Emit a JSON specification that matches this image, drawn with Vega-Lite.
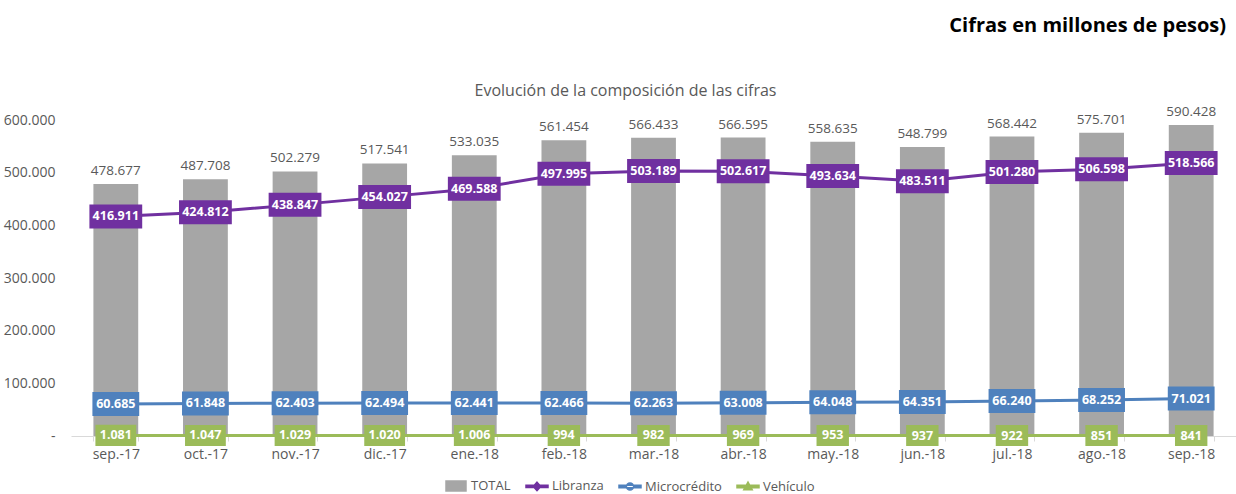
{
  "$schema": "https://vega.github.io/schema/vega-lite/v6.json",
  "autosize": {"type": "none"},
  "width": 1165,
  "height": 316,
  "padding": {"left": 71, "top": 120, "right": 0, "bottom": 58},
  "background": "white",
  "config": {
    "locale": {"number": {"decimal": ",", "thousands": ".", "grouping": [3], "currency": ["$", ""]}},
    "view": {"stroke": null},
    "font": "Open Sans"
  },
  "title": {
    "text": "Cifras en millones de pesos)",
    "anchor": "end",
    "frame": "group",
    "offset": 46,
    "dx": -10,
    "fontSize": 20,
    "fontWeight": "bold",
    "color": "#000000",
    "font": "Open Sans"
  },
  "data": {
    "values": [
      {"mes": "sep.-17", "TOTAL": 478677, "Libranza": 416911, "Microcrédito": 60685, "Vehículo": 1081},
      {"mes": "oct.-17", "TOTAL": 487708, "Libranza": 424812, "Microcrédito": 61848, "Vehículo": 1047},
      {"mes": "nov.-17", "TOTAL": 502279, "Libranza": 438847, "Microcrédito": 62403, "Vehículo": 1029},
      {"mes": "dic.-17", "TOTAL": 517541, "Libranza": 454027, "Microcrédito": 62494, "Vehículo": 1020},
      {"mes": "ene.-18", "TOTAL": 533035, "Libranza": 469588, "Microcrédito": 62441, "Vehículo": 1006},
      {"mes": "feb.-18", "TOTAL": 561454, "Libranza": 497995, "Microcrédito": 62466, "Vehículo": 994},
      {"mes": "mar.-18", "TOTAL": 566433, "Libranza": 503189, "Microcrédito": 62263, "Vehículo": 982},
      {"mes": "abr.-18", "TOTAL": 566595, "Libranza": 502617, "Microcrédito": 63008, "Vehículo": 969},
      {"mes": "may.-18", "TOTAL": 558635, "Libranza": 493634, "Microcrédito": 64048, "Vehículo": 953},
      {"mes": "jun.-18", "TOTAL": 548799, "Libranza": 483511, "Microcrédito": 64351, "Vehículo": 937},
      {"mes": "jul.-18", "TOTAL": 568442, "Libranza": 501280, "Microcrédito": 66240, "Vehículo": 922},
      {"mes": "ago.-18", "TOTAL": 575701, "Libranza": 506598, "Microcrédito": 68252, "Vehículo": 851},
      {"mes": "sep.-18", "TOTAL": 590428, "Libranza": 518566, "Microcrédito": 71021, "Vehículo": 841}
    ]
  },
  "transform": [
    {"fold": ["TOTAL", "Libranza", "Microcrédito", "Vehículo"], "as": ["serie", "valor"]}
  ],
  "encoding": {
    "x": {
      "field": "mes",
      "type": "nominal",
      "sort": null,
      "scale": {"paddingInner": 0.5, "paddingOuter": 0.25},
      "axis": {
        "title": null,
        "labelAngle": 0,
        "labelFontSize": 14,
        "labelColor": "#595959",
        "labelPadding": 6,
        "domainColor": "#D9D9D9",
        "tickColor": "#D9D9D9",
        "tickSize": 5,
        "tickBand": "extent"
      }
    },
    "y": {
      "field": "valor",
      "type": "quantitative",
      "scale": {"domain": [0, 600000]},
      "axis": {
        "values": [0, 100000, 200000, 300000, 400000, 500000, 600000],
        "format": ",.0f",
        "labelExpr": "datum.value === 0 ? '-' : datum.label",
        "labelFontSize": 14,
        "labelColor": "#595959",
        "labelPadding": 16,
        "ticks": false,
        "domain": false,
        "grid": false,
        "title": "Evolución de la composición  de las cifras",
        "titleAngle": 0,
        "titleX": 554,
        "titleY": -30,
        "titleAlign": "center",
        "titleBaseline": "middle",
        "titleFontSize": 16,
        "titleFontWeight": "normal",
        "titleColor": "#595959",
        "titleFont": "Open Sans"
      }
    }
  },
  "layer": [
    {
      "transform": [{"filter": "datum.serie === 'TOTAL'"}],
      "mark": {"type": "bar"},
      "encoding": {
        "color": {
          "field": "serie",
          "type": "nominal",
          "scale": {
            "domain": ["TOTAL", "Libranza", "Microcrédito", "Vehículo"],
            "range": ["#A6A6A6", "#7030A0", "#4F81BD", "#9BBB59"]
          },
          "legend": {
            "title": null,
            "orient": "none",
            "direction": "horizontal",
            "legendX": 374,
            "legendY": 355,
            "labelFontSize": 13,
            "labelColor": "#595959",
            "labelOffset": 4,
            "columnPadding": 12,
            "symbolSize": 400,
            "encode": {
              "symbols": {
                "update": {
                  "shape": {"signal": "datum.value === 'TOTAL' ? 'M-1,-0.5L1,-0.5L1,0.5L-1,0.5Z' : datum.value === 'Libranza' ? 'M-1.1,-0.12L1.1,-0.12L1.1,0.12L-1.1,0.12Z M0,-0.42L0.38,0L0,0.42L-0.38,0Z' : datum.value === 'Microcrédito' ? 'M-1.1,-0.12L1.1,-0.12L1.1,0.12L-1.1,0.12Z M-0.36,0A0.36,0.36 0 1,0 0.36,0A0.36,0.36 0 1,0 -0.36,0Z' : 'M-1.1,-0.12L1.1,-0.12L1.1,0.12L-1.1,0.12Z M0,-0.45L0.42,0.32L-0.42,0.32Z'"},
                  "fill": {"signal": "scale('color', datum.value)"},
                  "stroke": {"value": "transparent"},
                  "opacity": {"value": 1}
                }
              }
            }
          }
        }
      }
    },
    {
      "transform": [{"filter": "datum.serie === 'TOTAL'"}],
      "mark": {"type": "text", "baseline": "bottom", "dy": -6, "fontSize": 13.5, "color": "#595959"},
      "encoding": {
        "text": {"field": "valor", "type": "quantitative", "format": ",.0f"}
      }
    },
    {
      "transform": [{"filter": "datum.serie !== 'TOTAL'"}],
      "mark": {"type": "line", "strokeWidth": 3},
      "encoding": {
        "color": {"field": "serie", "type": "nominal", "legend": null}
      }
    },
    {
      "transform": [{"filter": "datum.serie !== 'TOTAL'"}],
      "mark": {"type": "point", "filled": true, "opacity": 1, "size": 576},
      "encoding": {
        "color": {"field": "serie", "type": "nominal", "legend": null},
        "shape": {
          "condition": {"test": "datum.serie === 'Vehículo' && datum.valor < 1000", "value": "M-1.35,-0.88L1.35,-0.88L1.35,0.88L-1.35,0.88Z"},
          "field": "serie",
          "type": "nominal",
          "scale": {
            "domain": ["Libranza", "Microcrédito", "Vehículo"],
            "range": [
              "M-2.2,-1L2.2,-1L2.2,1L-2.2,1Z",
              "M-1.95,-1L1.95,-1L1.95,1L-1.95,1Z",
              "M-1.7,-0.88L1.7,-0.88L1.7,0.88L-1.7,0.88Z"
            ]
          },
          "legend": null
        }
      }
    },
    {
      "transform": [{"filter": "datum.serie !== 'TOTAL'"}],
      "mark": {"type": "text", "fontSize": 12.5, "fontWeight": "bold", "color": "white", "baseline": "middle"},
      "encoding": {
        "text": {"field": "valor", "type": "quantitative", "format": ",.0f"}
      }
    }
  ]
}
